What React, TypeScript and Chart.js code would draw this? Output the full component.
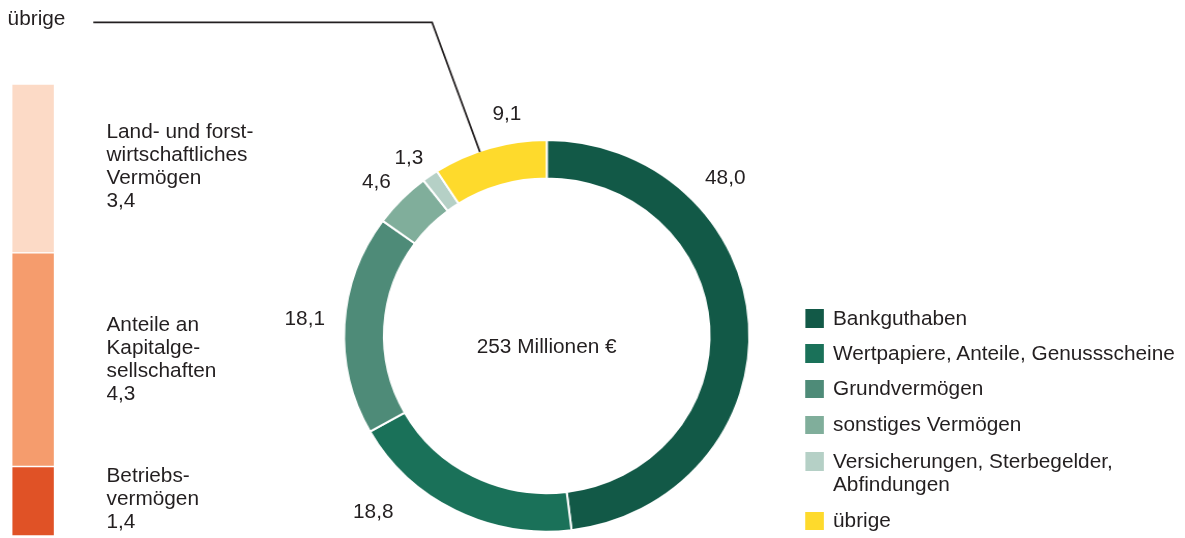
import React, { useEffect, useRef } from 'react';
import { Chart, registerables } from 'chart.js';

Chart.register(...registerables);

// ---------- data ----------
const CATEGORIES = [
  'Bankguthaben',
  'Wertpapiere, Anteile, Genussscheine',
  'Grundvermögen',
  'sonstiges Vermögen',
  'Versicherungen, Sterbegelder, Abfindungen',
  'übrige',
];
const VALUES = [48.0, 18.8, 18.1, 4.6, 1.3, 9.1];
const COLORS = ['#125947', '#1a7159', '#4e8b78', '#80ae9b', '#b5d0c6', '#feda2c'];
const TOTAL_LABEL = '253 Millionen €';

const BREAKDOWN_PARENT = 'übrige';
const BREAKDOWN_CATEGORIES = [
  'Betriebsvermögen',
  'Anteile an Kapitalgesellschaften',
  'Land- und forstwirtschaftliches Vermögen',
];
const BREAKDOWN_LINES = [
  ['Betriebs-', 'vermögen'],
  ['Anteile an', 'Kapitalge-', 'sellschaften'],
  ['Land- und forst-', 'wirtschaftliches', 'Vermögen'],
];
const BREAKDOWN_VALUES = [1.4, 4.3, 3.4];
const BREAKDOWN_COLORS = ['#e05226', '#f59c6d', '#fcdac6'];

// ---------- layout (reference pixel coordinates) ----------
const W = 1185;
const H = 538;
const SX = 1.035; // horizontal stretch of the reference
const WI = W / SX;
const ix = (x: number) => x / SX;

const TEXT_COLOR = '#231f20';
const FONT = '"Liberation Sans", Arial, Helvetica, sans-serif';
const FONT_SIZE = 20.1;
const LINE_H = 23;
const BASE_OFF = 17.6; // baseline offset from line box top

const CX = 546.7;
const CY = 335.8;
const R_OUT = 194.8;
const R_IN = 158.3;
const BW = 2;

const VALUE_LABEL_POS: [number, number][] = [
  [705, 183.3],
  [353, 517.3],
  [284.5, 324.3],
  [362, 187.3],
  [394.5, 163.3],
  [492.5, 120],
];
const CENTER_BASELINE = 352.7;

const LEGEND_SQ_X = 805;
const LEGEND_SQ = 18.4;
const LEGEND_TEXT_X = 833;
const LEGEND_BASELINES = [324.3, 359.3, 395, 431, 467.3, 526.7];

const BAR_LEFT = 12.7;
const BAR_RIGHT = 54;
const BAR_TOP = 85;
const BAR_BOTTOM = 535;

const BREAK_TEXT_X = 106.5;
const BREAK_BASELINES = [481.7, 330.7, 137.3];

const TOP_LABEL_X = 7.6;
const TOP_LABEL_BASELINE = 24.3;
const CONNECTOR_Y = 22.3;
const CONNECTOR_X0 = 93.3;
const CONNECTOR_X1 = 432;
const CONNECTOR_T = 0.41;

const fmt = (v: number) => v.toFixed(1).replace('.', ',');

function Txt(props: { x: number; baseline: number; children: React.ReactNode; width?: number }) {
  return (
    <div
      style={{
        position: 'absolute',
        left: ix(props.x),
        top: props.baseline - BASE_OFF,
        width: props.width,
        whiteSpace: props.width ? 'normal' : 'nowrap',
      }}
    >
      {props.children}
    </div>
  );
}

export default function App() {
  const donutRef = useRef<HTMLCanvasElement>(null);
  const barRef = useRef<HTMLCanvasElement>(null);

  useEffect(() => {
    const parentIdx = CATEGORIES.indexOf(BREAKDOWN_PARENT);
    const connector = {
      id: 'connector',
      afterDatasetsDraw(chart: any) {
        const arc = chart.getDatasetMeta(0).data[parentIdx];
        if (!arc) return;
        const p = arc.getProps(['x', 'y', 'startAngle', 'endAngle', 'outerRadius'], true);
        const a = p.startAngle + CONNECTOR_T * (p.endAngle - p.startAngle);
        const r = p.outerRadius - BW / 2;
        const ex = p.x + r * Math.cos(a);
        const ey = p.y + r * Math.sin(a);
        const ctx = chart.ctx;
        ctx.save();
        ctx.strokeStyle = TEXT_COLOR;
        ctx.lineWidth = 1.8;
        ctx.beginPath();
        ctx.moveTo(ix(CONNECTOR_X0), CONNECTOR_Y);
        ctx.lineTo(ix(CONNECTOR_X1), CONNECTOR_Y);
        ctx.lineTo(ex, ey);
        ctx.stroke();
        ctx.restore();
      },
    };

    const cxi = ix(CX);
    const half = 200;
    const donut = new Chart(donutRef.current!, {
      type: 'doughnut',
      data: {
        labels: CATEGORIES,
        datasets: [
          {
            data: VALUES,
            backgroundColor: COLORS,
            borderColor: '#ffffff',
            borderWidth: BW,
          },
        ],
      },
      options: {
        responsive: false,
        animation: false,
        radius: R_OUT + BW / 2,
        cutout: ((R_IN - BW / 2) / (R_OUT + BW / 2)) * 100 + '%',
        layout: {
          padding: {
            left: cxi - half,
            right: WI - cxi - half,
            top: CY - half,
            bottom: H - CY - half,
          },
        },
        plugins: { legend: { display: false }, tooltip: { enabled: false } },
      } as any,
      plugins: [connector],
    });

    const bar = new Chart(barRef.current!, {
      type: 'bar',
      data: {
        labels: [BREAKDOWN_PARENT],
        datasets: BREAKDOWN_CATEGORIES.map((c, i) => ({
          label: c,
          data: [BREAKDOWN_VALUES[i]],
          backgroundColor: BREAKDOWN_COLORS[i],
          borderColor: '#ffffff',
          borderWidth: { top: 1, bottom: 1, left: 0, right: 0 },
          borderSkipped: false,
          barPercentage: 1,
          categoryPercentage: 1,
        })),
      },
      options: {
        responsive: false,
        animation: false,
        layout: { padding: 0 },
        scales: {
          x: { stacked: true, display: false },
          y: {
            stacked: true,
            display: false,
            min: 0,
            max: BREAKDOWN_VALUES.reduce((a, b) => a + b, 0),
          },
        },
        plugins: { legend: { display: false }, tooltip: { enabled: false } },
      } as any,
    });

    return () => {
      donut.destroy();
      bar.destroy();
    };
  }, []);

  const barW = Math.round(ix(BAR_RIGHT - BAR_LEFT));
  const barH = BAR_BOTTOM - BAR_TOP + 2;

  return (
    <div
      style={{
        position: 'absolute',
        left: 0,
        top: 0,
        width: WI,
        height: H,
        transform: `scaleX(${SX})`,
        transformOrigin: '0 0',
        fontFamily: FONT,
        fontSize: FONT_SIZE,
        lineHeight: LINE_H + 'px',
        color: TEXT_COLOR,
        background: '#ffffff',
        overflow: 'hidden',
      }}
    >
      <canvas
        ref={donutRef}
        width={Math.round(WI)}
        height={H}
        style={{ position: 'absolute', left: 0, top: 0 }}
      />
      <canvas
        ref={barRef}
        width={barW}
        height={barH}
        style={{ position: 'absolute', left: ix(BAR_LEFT), top: BAR_TOP - 1 }}
      />

      <Txt x={TOP_LABEL_X} baseline={TOP_LABEL_BASELINE}>{BREAKDOWN_PARENT}</Txt>

      {BREAKDOWN_LINES.map((lines, i) => (
        <Txt key={'b' + i} x={BREAK_TEXT_X} baseline={BREAK_BASELINES[i]}>
          {lines.map((l, j) => (
            <div key={j}>{l}</div>
          ))}
          <div>{fmt(BREAKDOWN_VALUES[i])}</div>
        </Txt>
      ))}

      {VALUES.map((v, i) => (
        <Txt key={'v' + i} x={VALUE_LABEL_POS[i][0]} baseline={VALUE_LABEL_POS[i][1]}>
          {fmt(v)}
        </Txt>
      ))}

      <div
        style={{
          position: 'absolute',
          left: ix(CX) - 200,
          width: 400,
          top: CENTER_BASELINE - BASE_OFF,
          textAlign: 'center',
        }}
      >
        {TOTAL_LABEL}
      </div>

      {CATEGORIES.map((c, i) => (
        <React.Fragment key={'l' + i}>
          <div
            style={{
              position: 'absolute',
              left: ix(LEGEND_SQ_X),
              top: LEGEND_BASELINES[i] - 15,
              width: ix(LEGEND_SQ * SX),
              height: LEGEND_SQ,
              background: COLORS[i],
            }}
          />
          <Txt x={LEGEND_TEXT_X} baseline={LEGEND_BASELINES[i]} width={335}>
            {c}
          </Txt>
        </React.Fragment>
      ))}
    </div>
  );
}
